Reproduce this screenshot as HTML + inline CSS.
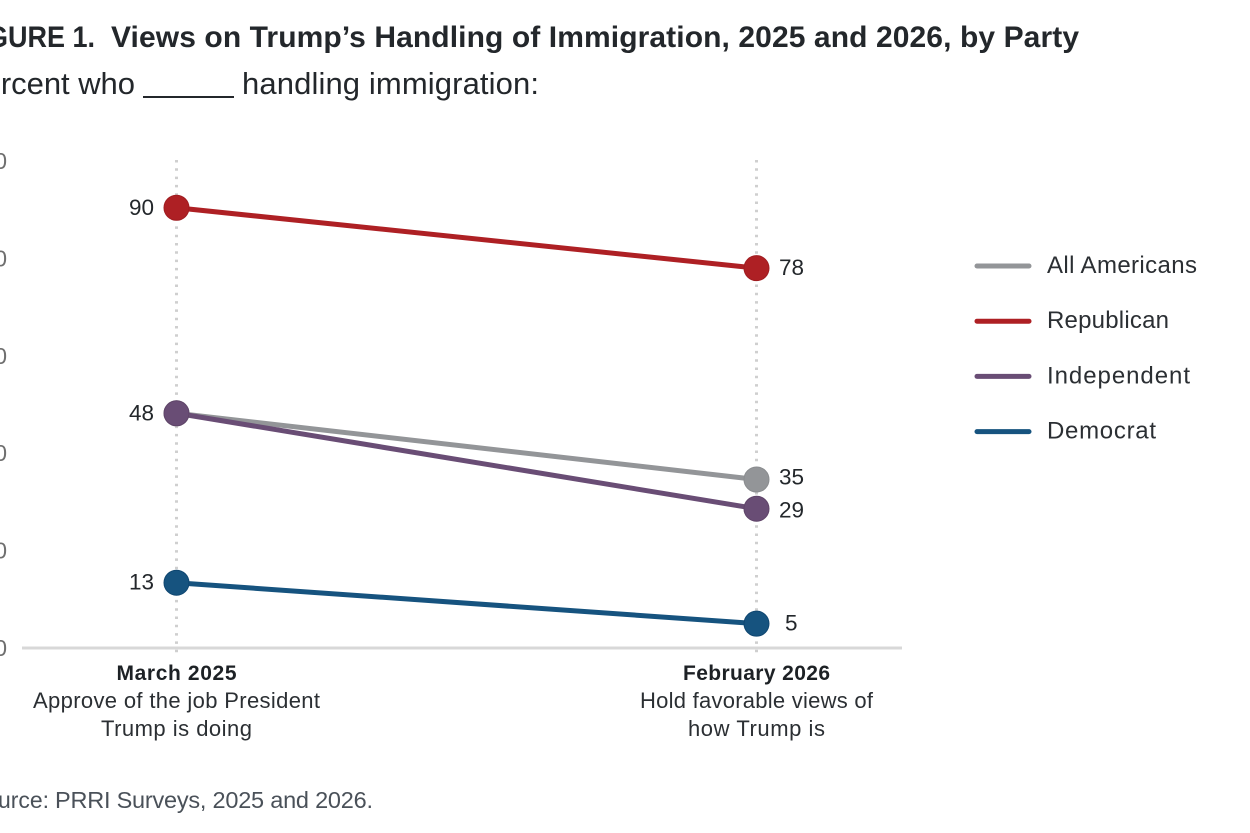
<!DOCTYPE html>
<html lang="en">
<head>
<meta charset="utf-8">
<title>Views on Trump's Handling of Immigration</title>
<style>
html,body{margin:0;padding:0;background:#fff;width:1250px;height:833px;overflow:hidden}
svg{display:block}
text{font-family:"Liberation Sans",sans-serif}
</style>
</head>
<body>
<svg id="chart" xmlns="http://www.w3.org/2000/svg" width="1250" height="833" viewBox="0 0 1250 833">
  <text x="-37" y="47" font-size="30" font-weight="700" fill="#23272b" textLength="132" lengthAdjust="spacingAndGlyphs">FIGURE 1.</text>
  <text x="111" y="47" font-size="30" font-weight="700" fill="#23272b" textLength="968" lengthAdjust="spacing">Views on Trump’s Handling of Immigration, 2025 and 2026, by Party</text>
  <text x="-37" y="94" font-size="31" fill="#23272b" textLength="172" lengthAdjust="spacing">Percent who</text>
  <line x1="143" x2="234" y1="97" y2="97" stroke="#23272b" stroke-width="2"></line>
  <text x="242" y="94" font-size="31" fill="#23272b" textLength="297" lengthAdjust="spacing">handling immigration:</text>
  <text x="-30" y="808" font-size="23" fill="#4a5159" textLength="79" lengthAdjust="spacing">Source:</text>
  <text x="55" y="808" font-size="23.5" fill="#4a5159" textLength="318" lengthAdjust="spacing">PRRI Surveys, 2025 and 2026.</text>
  <g id="grid"></g>
  <g id="ticks"></g>
  <g id="series"></g>
  <g id="periods"></g>
  <g id="legend"></g>
</svg>
<script>
const periods = ["March 2025", "February 2026"];
const periodNotes = [["Approve of the job President", "Trump is doing"], ["Hold favorable views of", "how Trump is"]];
const tickValues = [0, 20, 40, 60, 80, 100];
const seriesNames = ["All Americans", "Republican", "Independent", "Democrat"];
const allAmericans = [48.2, 34.6];
const republican = [90.4, 78];
const independent = [48.2, 28.6];
const democrat = [13.4, 5];
const allAmericansLabels = ["", "35"];
const republicanLabels = ["90", "78"];
const independentLabels = ["48", "29"];
const democratLabels = ["13", "5"];

const NS = "http://www.w3.org/2000/svg";
const xPos = [176.5, 756.5];
function yScale(v) { return 648 - v * 4.87; }
function make(parent, tag, attrs, txt) {
  const el = document.createElementNS(NS, tag);
  for (const k in attrs) el.setAttribute(k, attrs[k]);
  if (txt !== undefined) el.textContent = txt;
  parent.appendChild(el);
  return el;
}

const colors = ["#939598", "#ae2024", "#694d75", "#16537f"];
const edges = ["#8a8c8f", "#a01c20", "#5f4469", "#0f4670"];
const values = [allAmericans, republican, independent, democrat];
const labels = [allAmericansLabels, republicanLabels, independentLabels, democratLabels];

const grid = document.getElementById("grid");
xPos.forEach(function (x) {
  const g = make(grid, "line", { x1: x, x2: x, y1: 160, y2: yScale(0) + 8, stroke: "#cfcfcf", "stroke-width": 3, "stroke-dasharray": "2.5 5.8" });
  
  
});
const axis = make(grid, "line", { x1: 22, x2: 902, y1: yScale(0), y2: yScale(0), stroke: "#d8d8d8", "stroke-width": 3 });



const ticks = document.getElementById("ticks");
tickValues.forEach(function (t) {
  const el = make(ticks, "text", { x: 7, y: yScale(t) + 8, "text-anchor": "end", "font-size": 23, fill: "#6f6f6f" }, String(t));
  
  
});

const seriesG = document.getElementById("series");
values.forEach(function (vals, i) {
  const ln = make(seriesG, "line", { x1: xPos[0], y1: yScale(vals[0]), x2: xPos[1], y2: yScale(vals[1]), stroke: colors[i], "stroke-width": 5 });
  
  
});
values.forEach(function (vals, i) {
  vals.forEach(function (v, j) {
    const dot = make(seriesG, "circle", { cx: xPos[j], cy: yScale(v), r: 12.5, fill: colors[i], stroke: edges[i], "stroke-width": 1 });
    
    
    const s = labels[i][j];
    if (s) {
      const attrs = j === 0
        ? { x: xPos[j] - 22.5, "text-anchor": "end" }
        : { x: xPos[j] + (s.length === 1 ? 28.5 : 22.5), "text-anchor": "start" };
      attrs.y = yScale(v) + 7;
      if (s === "35") attrs.y = yScale(v) + 5;
      if (s === "29") attrs.y = yScale(v) + 9;
      attrs["font-size"] = 22.5;
      attrs.fill = "#23272b";
      const lab = make(seriesG, "text", attrs, s);
      
      
    }
  });
});

const periodG = document.getElementById("periods");
const periodWidths = [120, 147];
const noteWidths = [[287, 151], [233, 137]];
periods.forEach(function (p, i) {
  const head = make(periodG, "text", { x: xPos[i], y: 680, "text-anchor": "middle", "font-size": 21, "font-weight": 700, fill: "#1d2125", textLength: periodWidths[i], lengthAdjust: "spacing" }, p);
  
  
  periodNotes[i].forEach(function (n, k) {
    const note = make(periodG, "text", { x: xPos[i], y: 708 + k * 28, "text-anchor": "middle", "font-size": 22, fill: "#2b2f33", textLength: noteWidths[i][k], lengthAdjust: "spacing" }, n);
    
    
  });
});

const legendG = document.getElementById("legend");
const legendWidths = [150, 122, 143, 109];
seriesNames.forEach(function (name, i) {
  const y = 266 + i * 55.2;
  const sw = make(legendG, "line", { x1: 977, x2: 1029, y1: y, y2: y, stroke: colors[i], "stroke-width": 5, "stroke-linecap": "round" });
  
  
  const t = make(legendG, "text", { x: 1047, y: y + 7, "font-size": 24, fill: "#2b2f33", textLength: legendWidths[i], lengthAdjust: "spacing" }, name);
  
  
});
</script>
</body>
</html>
